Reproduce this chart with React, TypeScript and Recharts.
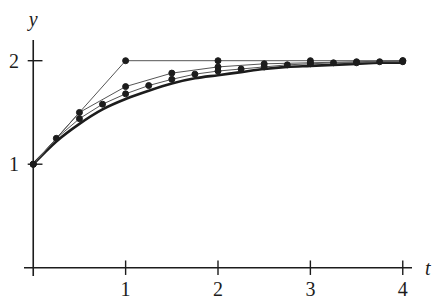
import { LineChart, Line, XAxis, YAxis, ReferenceLine } from 'recharts';

// Euler approximations (step 1, 0.5, 0.25) and the exact solution
const tStep1 = [0, 1, 2, 3, 4];
const yStep1 = [1, 2, 2, 2, 2];

const tStepHalf = [0, 0.5, 1, 1.5, 2, 2.5, 3, 3.5, 4];
const yStepHalf = [1, 1.5, 1.75, 1.88, 1.94, 1.97, 1.98, 1.99, 2.0];

const tStepQuarter = [0, 0.25, 0.5, 0.75, 1, 1.25, 1.5, 1.75, 2, 2.25, 2.5, 2.75, 3, 3.25, 3.5, 3.75, 4];
const yStepQuarter = [1, 1.25, 1.44, 1.58, 1.68, 1.76, 1.82, 1.87, 1.9, 1.92, 1.94, 1.96, 1.97, 1.98, 1.98, 1.99, 1.99];
const yExact = [1, 1.22, 1.39, 1.53, 1.63, 1.71, 1.78, 1.83, 1.86, 1.89, 1.92, 1.94, 1.95, 1.96, 1.97, 1.98, 1.98];

const xTicks = [1, 2, 3, 4];
const yTicks = [1, 2];

const zip = (ts: number[], ys: number[]) => ts.map((t, i) => ({ t, y: ys[i] }));

const font = 'Liberation Serif, DejaVu Serif, serif';
const ink = '#1c1c1c';
const dot = { r: 3, fill: ink, stroke: ink, strokeWidth: 1 };
const tickStyle = { fill: ink, fontSize: 20, style: { fontFamily: font } };

export default function App() {
  return (
    <div style={{ position: 'absolute', left: 0, top: 0, background: '#fff', fontFamily: font }}>
      <LineChart width={433} height={301} margin={{ top: 40, right: 21, bottom: 0, left: 0 }} style={{ fontFamily: font }}>
        <XAxis
          type="number"
          dataKey="t"
          domain={[-0.1, 4.1]}
          ticks={xTicks}
          allowDataOverflow
          axisLine={false}
          tickLine={false}
          tickSize={0}
          tickMargin={6}
          height={25}
          tick={tickStyle}
        />
        <YAxis
          type="number"
          domain={[-0.08, 2.2]}
          ticks={yTicks}
          allowDataOverflow
          axisLine={false}
          tickLine={false}
          tickSize={0}
          tickMargin={5}
          width={24}
          tick={tickStyle}
        />
        <ReferenceLine
          x={0}
          stroke={ink}
          strokeWidth={1.6}
          label={{ value: 'y', position: 'top', offset: 14, fill: ink, fontSize: 20, fontStyle: 'italic', style: { fontFamily: font } }}
        />
        <ReferenceLine
          y={0}
          stroke={ink}
          strokeWidth={1.6}
          label={{ value: 't', position: 'right', offset: 13, fill: ink, fontSize: 20, fontStyle: 'italic', style: { fontFamily: font } }}
        />
        {xTicks.map((t) => (
          <ReferenceLine key={'xt' + t} segment={[{ x: t, y: -0.07 }, { x: t, y: 0.07 }]} stroke={ink} strokeWidth={1.4} />
        ))}
        {yTicks.map((v) => (
          <ReferenceLine key={'yt' + v} segment={[{ x: -0.06, y: v }, { x: 0.1, y: v }]} stroke={ink} strokeWidth={1.4} />
        ))}
        <Line
          data={zip(tStepQuarter, yExact)}
          dataKey="y"
          type="monotone"
          stroke={ink}
          strokeWidth={2.6}
          dot={false}
          isAnimationActive={false}
        />
        <Line
          data={zip(tStep1, yStep1)}
          dataKey="y"
          type="linear"
          stroke="#555"
          strokeWidth={1}
          dot={dot}
          isAnimationActive={false}
        />
        <Line
          data={zip(tStepHalf, yStepHalf)}
          dataKey="y"
          type="linear"
          stroke="#555"
          strokeWidth={1}
          dot={dot}
          isAnimationActive={false}
        />
        <Line
          data={zip(tStepQuarter, yStepQuarter)}
          dataKey="y"
          type="linear"
          stroke="#555"
          strokeWidth={1}
          dot={dot}
          isAnimationActive={false}
        />
      </LineChart>
    </div>
  );
}
